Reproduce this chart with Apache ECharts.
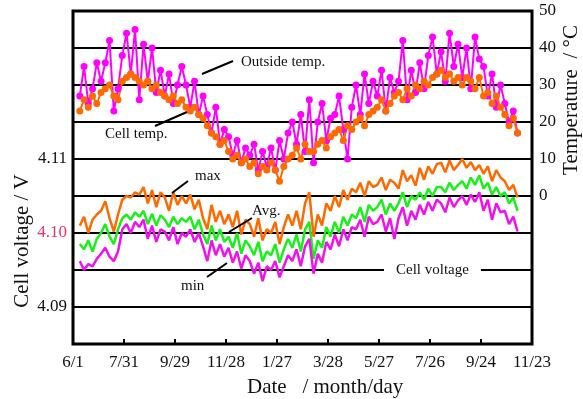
<!DOCTYPE html>
<html>
<head>
<meta charset="utf-8">
<script src="https://cdn.jsdelivr.net/npm/echarts@6/dist/echarts.min.js"></script>
<style>
  html, body { margin: 0; padding: 0; background: #fff; }
  #chart { width: 583px; height: 399px; }
</style>
</head>
<body>
<div id="chart"></div>
<script>
// days since 6/1, one sample every 5 days
const startDay = 8
const stepDays = 5
const dateLabels = ['6/1', '7/31', '9/29', '11/28', '1/27', '3/28', '5/27', '7/26', '9/24', '11/23']
const voltLabels = [4.09, 4.10, 4.11]

// temperatures, degC
const outsideTemp = [
  27, 35, 25, 29, 36, 31, 36, 42, 23, 29,
  38, 44, 33, 45, 26, 41, 31, 40, 28, 34,
  27, 33, 25, 30, 35, 30, 24, 31, 22, 27,
  22, 17, 24, 14, 18, 16, 11, 15, 9, 13,
  11, 14, 7, 12, 8, 13, 7, 15, 10, 17,
  20, 14, 22, 12, 26, 9, 20, 25, 15, 21,
  22, 27, 18, 10, 24, 30, 22, 33, 25, 31,
  27, 34, 23, 32, 28, 31, 42, 26, 34, 28,
  36, 29, 38, 43, 33, 39, 31, 44, 35, 41,
  32, 40, 29, 43, 37, 35, 27, 33, 24, 30,
  25, 20, 23, 17
]
const cellTemp = [
  23, 26, 24, 27, 25, 28, 29, 30, 27, 26,
  31, 32, 33, 32, 31, 30, 31, 29, 30, 28,
  27, 26, 27, 25, 26, 24, 23, 24, 22, 21,
  19, 17, 16, 14, 15, 12, 10, 11, 9, 10,
  8, 9, 6, 8, 7, 9, 7, 4, 8, 10,
  11, 13, 10, 14, 12, 12, 14, 15, 13, 16,
  17, 18, 15, 19, 18, 20, 21, 19, 22, 23,
  24, 26, 23, 25, 27, 28, 26, 29, 27, 30,
  29, 31, 30, 32, 33, 34, 32, 33, 31, 32,
  30, 32, 31, 29, 32, 27, 28, 25, 27, 24,
  22, 19, 21, 17
]

// cell voltages, V
const vMax = [
  4.1010, 4.1022, 4.1000, 4.1018, 4.1025, 4.1030, 4.1043, 4.1020, 4.1002, 4.1025,
  4.1045, 4.1050, 4.1048, 4.1055, 4.1052, 4.1062, 4.1040, 4.1058, 4.1035, 4.1055,
  4.1048, 4.1030, 4.1055, 4.1038, 4.1050, 4.1040, 4.1052, 4.1032, 4.1045, 4.1020,
  4.1005, 4.1038, 4.1015, 4.1030, 4.1012, 4.1025, 4.1008, 4.1030, 4.0998, 4.1018,
  4.1012, 4.0995, 4.1020, 4.0990, 4.1005, 4.1000, 4.1015, 4.0985, 4.1008, 4.1025,
  4.1010, 4.1030, 4.1005, 4.1040, 4.1055, 4.0995, 4.1025, 4.1010, 4.1040, 4.1030,
  4.1050, 4.1035, 4.1058, 4.1045, 4.1060, 4.1055, 4.1068, 4.1050, 4.1070, 4.1062,
  4.1065, 4.1075, 4.1058, 4.1072, 4.1068, 4.1060, 4.1085, 4.1070, 4.1078, 4.1064,
  4.1088, 4.1072, 4.1090, 4.1080, 4.1093, 4.1095, 4.1082, 4.1098, 4.1085, 4.1092,
  4.1100, 4.1088, 4.1096, 4.1085, 4.1092, 4.1080, 4.1090, 4.1070, 4.1085, 4.1075,
  4.1070, 4.1058, 4.1065, 4.1048
]
const vAvg = [
  4.0985, 4.0978, 4.0990, 4.0975, 4.0992, 4.1000, 4.1012, 4.0995, 4.0985, 4.1005,
  4.1020, 4.1025, 4.1018, 4.1028, 4.1022, 4.1030, 4.1012, 4.1026, 4.1010, 4.1024,
  4.1018, 4.1008, 4.1022, 4.1012, 4.1020, 4.1015, 4.1022, 4.1005, 4.1018, 4.0998,
  4.0985, 4.1010, 4.0990, 4.1005, 4.0988, 4.0995, 4.0980, 4.1000, 4.0972, 4.0990,
  4.0982, 4.0970, 4.0988, 4.0962, 4.0975, 4.0970, 4.0985, 4.0960, 4.0978, 4.0992,
  4.0980, 4.0998, 4.0975, 4.1005, 4.1015, 4.0965, 4.0990, 4.0980, 4.1008, 4.0995,
  4.1015, 4.1000, 4.1022, 4.1010, 4.1025, 4.1020, 4.1035, 4.1015, 4.1038, 4.1030,
  4.1035, 4.1045, 4.1025, 4.1040, 4.1030, 4.1040, 4.1055, 4.1035, 4.1050, 4.1045,
  4.1055, 4.1045, 4.1060, 4.1050, 4.1062, 4.1062, 4.1055, 4.1068, 4.1058, 4.1065,
  4.1070, 4.1060, 4.1075, 4.1065, 4.1078, 4.1060, 4.1068, 4.1052, 4.1062, 4.1050,
  4.1055, 4.1040, 4.1048, 4.1030
]
const vMin = [
  4.0962, 4.0950, 4.0958, 4.0955, 4.0965, 4.0972, 4.0980, 4.0968, 4.0962, 4.0975,
  4.1005, 4.1012, 4.1000, 4.1015, 4.1008, 4.1018, 4.0992, 4.1010, 4.0988, 4.1005,
  4.1002, 4.0990, 4.1008, 4.0985, 4.1000, 4.0995, 4.1005, 4.0988, 4.1000, 4.0982,
  4.0962, 4.0990, 4.0970, 4.0985, 4.0968, 4.0980, 4.0960, 4.0975, 4.0952, 4.0970,
  4.0962, 4.0945, 4.0960, 4.0935, 4.0955, 4.0950, 4.0962, 4.0940, 4.0955, 4.0970,
  4.0962, 4.0978, 4.0955, 4.0982, 4.0992, 4.0945, 4.0972, 4.0960, 4.0988, 4.0978,
  4.0998, 4.0982, 4.1005, 4.0990, 4.1008, 4.1005, 4.1018, 4.0995, 4.1022, 4.1012,
  4.1015, 4.1025, 4.1002, 4.1020, 4.0992, 4.1020, 4.1035, 4.1010, 4.1030, 4.1018,
  4.1038, 4.1025, 4.1042, 4.1030, 4.1045, 4.1040, 4.1028, 4.1048, 4.1035, 4.1044,
  4.1050, 4.1038, 4.1052, 4.1042, 4.1055, 4.1030, 4.1045, 4.1018, 4.1040, 4.1028,
  4.1030, 4.1012, 4.1022, 4.1002
]

const serif = '"Liberation Serif", "Times New Roman", serif'
const toPoints = arr => arr.map((v, i) => [startDay + i * stepDays, v])
const isVoltLabel = v => voltLabels.some(t => Math.abs(Number(v) - t) < 1e-6)

const chart = echarts.init(document.getElementById('chart'))

const tempSeries = (name, data, color) => ({
  name,
  type: 'line',
  yAxisIndex: 1,
  data: toPoints(data),
  symbol: 'circle',
  symbolSize: 7,
  itemStyle: { color },
  lineStyle: { color, width: 2 },
  animation: false,
  z: 3
})

const voltSeries = (name, data, color) => ({
  name,
  type: 'line',
  yAxisIndex: 0,
  data: toPoints(data),
  showSymbol: false,
  lineStyle: { color, width: 2.5 },
  animation: false,
  z: 2
})

const annotLine = (x1, y1, x2, y2) => ({
  type: 'line',
  shape: { x1, y1, x2, y2 },
  style: { stroke: '#000', lineWidth: 2 },
  z: 100
})

const annotText = (text, x, y, extra) => ({
  type: 'text',
  x, y,
  style: Object.assign({ text, fill: '#111', font: '15px ' + serif, verticalAlign: 'middle' }, extra || {}),
  z: 100
})

chart.setOption({
  backgroundColor: '#fff',
  animation: false,
  grid: {
    left: 73, right: 51, top: 11, bottom: 55,
    show: true,
    borderColor: '#000',
    borderWidth: 3,
    containLabel: false,
    outerBoundsMode: 'none'
  },
  xAxis: {
    type: 'value',
    min: 0,
    max: 540,
    interval: 60,
    axisLine: { show: false, onZero: false },
    axisTick: { show: true, inside: true, length: 5, lineStyle: { color: '#000', width: 2 } },
    splitLine: { show: false },
    axisLabel: {
      margin: 10,
      color: '#111',
      fontFamily: serif,
      fontSize: 17,
      formatter: v => dateLabels[Math.round(v / 60)] || ''
    }
  },
  yAxis: [
    {
      type: 'value',
      min: 4.085,
      max: 4.13,
      interval: 0.005,
      axisLine: { show: false },
      axisTick: { show: false },
      splitLine: { show: true, lineStyle: { color: '#000', width: 2 } },
      axisLabel: {
        margin: 6,
        fontFamily: serif,
        fontSize: 17,
        color: v => Math.abs(Number(v) - 4.10) < 1e-6 ? '#f2306a' : '#111',
        formatter: v => isVoltLabel(v) ? Number(v).toFixed(2) : ''
      }
    },
    {
      type: 'value',
      position: 'right',
      min: -40,
      max: 50,
      interval: 10,
      axisLine: { show: false },
      axisTick: { show: false },
      splitLine: { show: false },
      axisLabel: {
        margin: 7,
        color: '#111',
        fontFamily: serif,
        fontSize: 17,
        formatter: v => v >= 0 ? String(v) : ''
      }
    }
  ],
  series: [
    tempSeries('Outside temp.', outsideTemp, '#ff00ff'),
    tempSeries('Cell temp.', cellTemp, '#ff6a00'),
    voltSeries('max', vMax, '#ff6a00'),
    voltSeries('Avg.', vAvg, '#18f018'),
    voltSeries('min', vMin, '#f010f0')
  ],
  graphic: [
    annotText('Outside temp.', 241, 62),
    annotLine(202, 74, 233, 61),
    annotText('Cell temp.', 105, 134),
    annotLine(155, 126, 187, 112),
    annotText('max', 195, 176),
    annotLine(172, 193, 188, 181),
    annotText('Avg.', 252, 211),
    annotLine(229, 232, 252, 218),
    annotText('min', 181, 286),
    annotLine(207, 277, 227, 263),
    annotText('Cell voltage', 384, 270, { backgroundColor: '#fff', padding: [3, 12, 3, 12] }),
    {
      type: 'text',
      x: 22, y: 241,
      rotation: Math.PI / 2,
      style: { text: 'Cell voltage / V', fill: '#111', font: '21px ' + serif, align: 'center', verticalAlign: 'middle' },
      z: 100
    },
    {
      type: 'text',
      x: 571, y: 100,
      rotation: Math.PI / 2,
      style: { text: 'Temperature  / °C', fill: '#111', font: '21px ' + serif, align: 'center', verticalAlign: 'middle' },
      z: 100
    },
    {
      type: 'text',
      x: 247, y: 387,
      style: { text: 'Date   / month/day', fill: '#111', font: '21px ' + serif, verticalAlign: 'middle' },
      z: 100
    }
  ]
})
</script>
</body>
</html>
